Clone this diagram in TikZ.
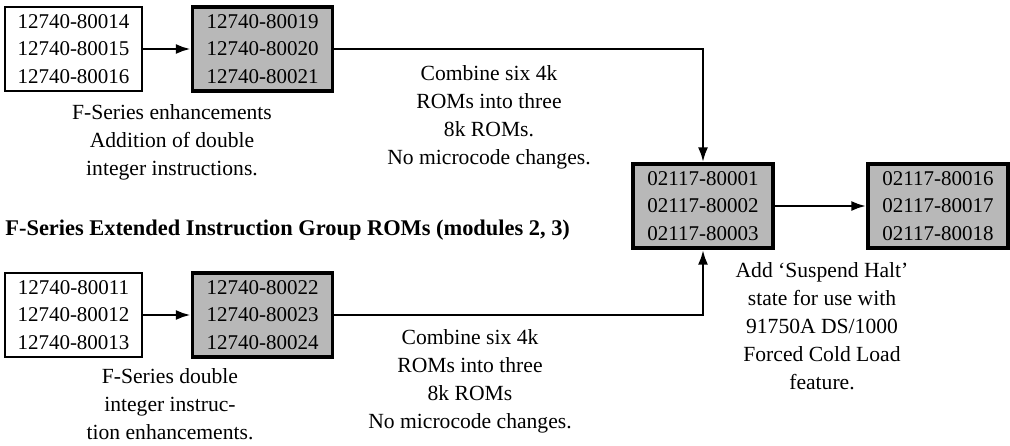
\documentclass[tikz,border=0pt]{standalone}
\usepackage{fontspec}
\setmainfont{Liberation Serif}
\usetikzlibrary{arrows.meta}
\begin{document}
\begin{tikzpicture}[x=0.5pt,y=-0.5pt,
  txt/.style={font=\fontsize{10.8}{14}\selectfont},
  rom/.style={draw, line width=1.3pt, inner sep=0pt, align=center,
    minimum width=68.5pt, minimum height=42pt, font=\fontsize{10.5}{13.8}\selectfont},
  romg/.style={rom, fill=black!28, line width=1.6pt, minimum width=70pt},
  note/.style={txt, align=center, inner sep=0pt},
  conn/.style={line width=1.4pt, -{Latex[length=7.5pt,width=5pt]}}
]
\useasboundingbox (0,0) rectangle (1010,445);
% top row
\node[rom]  (a1) at (73.5,49)  {12740-80014\\12740-80015\\12740-80016};
\node[romg] (a2) at (262.5,49) {12740-80019\\12740-80020\\12740-80021};
% bottom row
\node[rom]  (b1) at (73.5,315)  {12740-80011\\12740-80012\\12740-80013};
\node[romg] (b2) at (262.5,315) {12740-80022\\12740-80023\\12740-80024};
% merged
\node[romg] (c) at (703,206) {02117-80001\\02117-80002\\02117-80003};
\node[romg] (d) at (938,206) {02117-80016\\02117-80017\\02117-80018};
% connectors
\draw[conn] (a1) -- (a2);
\draw[conn] (b1) -- (b2);
\draw[conn] (a2.east) -| (c.north);
\draw[conn] (b2.east) -| (c.south);
\draw[conn] (c) -- (d);
% notes
\node[note] (na) at (172,142) {F-Series enhancements\\Addition of double\\integer instructions.};
\node[note] (nab) at (489,117) {Combine six 4k\\ROMs into three\\8k ROMs.\\No microcode changes.};
\node[inner sep=0pt, anchor=west, font=\fontsize{11.2}{14}\selectfont\bfseries] (title) at (5,230) {F-Series Extended Instruction Group ROMs (modules 2, 3)};
\node[note] (nb) at (170,404) {F-Series double\\integer instruc-\\tion enhancements.};
\node[note] (nbb) at (470,381) {Combine six 4k\\ROMs into three\\8k ROMs\\No microcode changes.};
\node[note] (nc) at (822,326) {Add ‘Suspend Halt’\\state for use with\\91750A DS/1000\\Forced Cold Load\\feature.};
\end{tikzpicture}
\end{document}
